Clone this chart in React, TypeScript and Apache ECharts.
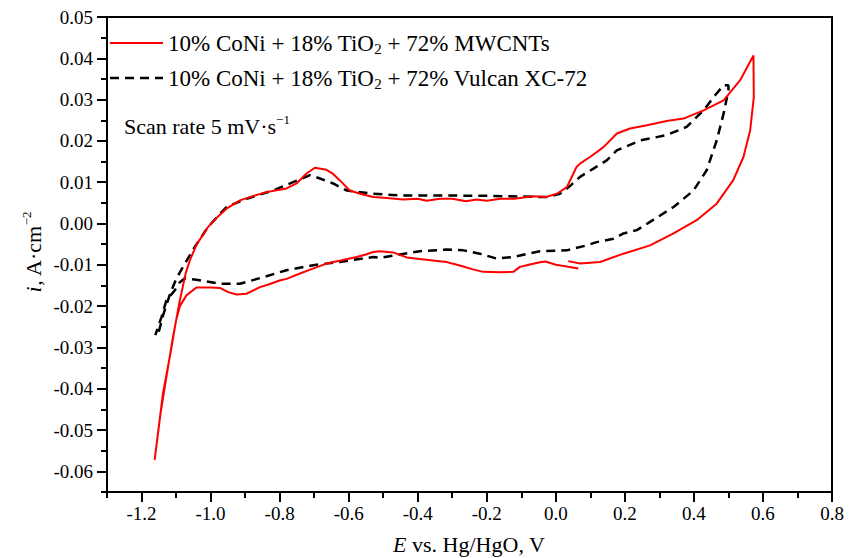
import React, { useEffect, useRef } from "react";
import * as echarts from "echarts";

// MWCNTs support: potential (V) and current density (A/cm2)
const mwcntE = [
  0.065, 0.032, 0.0, -0.03, -0.046, -0.075, -0.104, -0.123, -0.16, -0.21, -0.24, -0.268, -0.3, -0.316, -0.35, -0.394,
  -0.432, -0.471, -0.51, -0.529, -0.55, -0.577, -0.62, -0.664, -0.7, -0.741, -0.78, -0.8, -0.83, -0.857, -0.896,
  -0.925, -0.949, -0.973, -1.0, -1.041, -1.07, -1.089, -1.1, -1.113, -1.138, -1.162,
  -1.145, -1.128, -1.109, -1.089, -1.072, -1.06, -1.04, -1.02, -1.007, -0.98, -0.954, -0.915, -0.875, -0.838, -0.8,
  -0.78, -0.751, -0.722, -0.698, -0.664, -0.645, -0.626, -0.597, -0.567, -0.529, -0.49, -0.442, -0.4, -0.374, -0.336,
  -0.3, -0.26, -0.23, -0.2, -0.16, -0.12, -0.065, -0.03, 0.003, 0.032, 0.051, 0.06, 0.07, 0.099, 0.138, 0.177, 0.215,
  0.264, 0.321, 0.37, 0.428, 0.486, 0.534, 0.5725,
  0.5735, 0.563, 0.5435, 0.514, 0.466, 0.408, 0.341, 0.273, 0.196, 0.128, 0.07, 0.036,
];
const mwcntI = [
  -0.0109, -0.0104, -0.01, -0.0092, -0.0094, -0.0099, -0.0105, -0.0117, -0.0118, -0.0117, -0.0111, -0.0104, -0.0097,
  -0.0093, -0.009, -0.0086, -0.0082, -0.007, -0.0067, -0.0069, -0.0075, -0.0081, -0.0089, -0.0097, -0.0108, -0.0121,
  -0.0134, -0.0138, -0.0147, -0.0154, -0.017, -0.0172, -0.0166, -0.0156, -0.0155, -0.0155, -0.0174, -0.02, -0.0235,
  -0.0299, -0.0412, -0.0572,
  -0.046, -0.0372, -0.0275, -0.0186, -0.012, -0.0089, -0.005, -0.0025, -0.0008, 0.0016, 0.0036, 0.0056, 0.0067,
  0.0076, 0.0082, 0.0085, 0.0097, 0.0121, 0.0135, 0.013, 0.012, 0.0105, 0.008, 0.0072, 0.0064, 0.0062, 0.0058, 0.006,
  0.0055, 0.006, 0.006, 0.0054, 0.0058, 0.0055, 0.006, 0.006, 0.0066, 0.0064, 0.0072, 0.0088, 0.0121, 0.0137, 0.0145,
  0.0161, 0.0185, 0.0218, 0.023, 0.0238, 0.0248, 0.0254, 0.0274, 0.0298, 0.0347, 0.0407,
  0.0306, 0.0226, 0.0161, 0.0105, 0.0048, 0.0008, -0.0024, -0.0053, -0.0073, -0.0093, -0.0097, -0.0091,
];

// Vulcan XC-72 support
const vulcanE = [
  -1.15, -1.136, -1.118, -1.1, -1.08, -1.046, -1.007, -0.954, -0.896, -0.819, -0.761, -0.712, -0.683, -0.645, -0.606,
  -0.529, -0.452, -0.336, -0.2, -0.0265, 0.012, 0.04, 0.07, 0.109, 0.1475, 0.1765, 0.244, 0.321, 0.379, 0.428, 0.457,
  0.486, 0.5,
  0.5, 0.486, 0.466, 0.437, 0.399, 0.341, 0.273, 0.235, 0.196, 0.167, 0.1185, 0.0895, 0.0507, 0.0316, -0.046, -0.123,
  -0.171, -0.22, -0.268, -0.316, -0.394, -0.452, -0.51, -0.529, -0.626, -0.703, -0.78, -0.848, -0.915, -0.973,
  -1.041, -1.075, -1.089, -1.104, -1.128, -1.142, -1.16,
];
const vulcanI = [
  -0.0262, -0.0218, -0.0172, -0.0135, -0.0105, -0.0057, -0.0008, 0.004, 0.006, 0.008, 0.01, 0.0117, 0.0109, 0.0097,
  0.008, 0.0072, 0.0068, 0.0068, 0.0067, 0.0064, 0.0072, 0.009, 0.0113, 0.0133, 0.0153, 0.0177, 0.0201, 0.0214,
  0.0234, 0.0274, 0.0306, 0.0335, 0.0335,
  0.0323, 0.0266, 0.0201, 0.0129, 0.008, 0.004, 0.0004, -0.0016, -0.0024, -0.0037, -0.0045, -0.0053, -0.0061, -0.0065,
  -0.0067, -0.0081, -0.0085, -0.0073, -0.0065, -0.0063, -0.0067, -0.0075, -0.0083, -0.0081, -0.0093, -0.0101, -0.0113,
  -0.013, -0.0146, -0.0146, -0.0136, -0.0133, -0.0142, -0.0162, -0.0186, -0.0226, -0.027,
];

const xMajorTicks = [-1.2, -1.0, -0.8, -0.6, -0.4, -0.2, 0.0, 0.2, 0.4, 0.6, 0.8];
const xMinorTicks = [-1.3, -1.1, -0.9, -0.7, -0.5, -0.3, -0.1, 0.1, 0.3, 0.5, 0.7];
const yMajorTicks = [-0.06, -0.05, -0.04, -0.03, -0.02, -0.01, 0.0, 0.01, 0.02, 0.03, 0.04, 0.05];
const yMinorTicks = [-0.065, -0.055, -0.045, -0.035, -0.025, -0.015, -0.005, 0.005, 0.015, 0.025, 0.035, 0.045];

const FONT = "Liberation Serif";

export default function App() {
  const ref = useRef<HTMLDivElement>(null);
  useEffect(() => {
    if (!ref.current) return;
    const chart = echarts.init(ref.current, null, { renderer: "svg" });
    const pair = (xs: number[], ys: number[]) => xs.map((x, i) => [x, ys[i]]);
    const tickRich = { t: { fontFamily: FONT, fontSize: 19, color: "#000", fill: "#000" } };
    const txt = (extra: object = {}) => ({ fontSize: 22, fontFamily: FONT, fill: "#000", lineHeight: 26, ...extra });
    chart.setOption({
      animation: false,
      backgroundColor: "#fff",
      textStyle: { fontFamily: FONT },
      grid: { left: 107, top: 17, right: 24, bottom: 66, show: true, borderColor: "#000", borderWidth: 2 },
      xAxis: [
        {
          type: "value", min: -1.3, max: 0.8,
          axisLine: { show: true, onZero: false, lineStyle: { color: "#000", width: 2 } },
          axisTick: { show: true, inside: false, length: 10, customValues: xMajorTicks, lineStyle: { color: "#000", width: 2 } },
          axisLabel: {
            customValues: xMajorTicks, formatter: (v: number) => `{t|${v.toFixed(1)}}`, rich: tickRich,
            fontFamily: FONT, fontSize: 19, color: "#000", margin: 12,
          },
          splitLine: { show: false },
        },
        {
          type: "value", min: -1.3, max: 0.8, position: "bottom",
          axisLine: { show: false, onZero: false },
          axisTick: { show: true, length: 6, customValues: xMinorTicks, lineStyle: { color: "#000", width: 2 } },
          axisLabel: { show: false },
          splitLine: { show: false },
        },
      ],
      yAxis: [
        {
          type: "value", min: -0.065, max: 0.05,
          axisLine: { show: true, onZero: false, lineStyle: { color: "#000", width: 2 } },
          axisTick: { show: true, length: 10, customValues: yMajorTicks, lineStyle: { color: "#000", width: 2 } },
          axisLabel: {
            customValues: yMajorTicks, formatter: (v: number) => `{t|${v.toFixed(2)}}`, rich: tickRich,
            fontFamily: FONT, fontSize: 19, color: "#000", margin: 14,
          },
          splitLine: { show: false },
        },
        {
          type: "value", min: -0.065, max: 0.05, position: "left",
          axisLine: { show: false, onZero: false },
          axisTick: { show: true, length: 6, customValues: yMinorTicks, lineStyle: { color: "#000", width: 2 } },
          axisLabel: { show: false },
          splitLine: { show: false },
        },
      ],
      series: [
        {
          name: "MWCNTs", type: "line", data: pair(mwcntE, mwcntI), showSymbol: false, symbol: "none",
          lineStyle: { color: "#ff0000", width: 2 }, z: 3,
        },
        {
          name: "Vulcan", type: "line", data: pair(vulcanE, vulcanI), showSymbol: false, symbol: "none",
          lineStyle: { color: "#000", width: 2.5, type: [9, 6] }, z: 2,
        },
      ],
      graphic: [
        { type: "line", shape: { x1: 110, y1: 43, x2: 163, y2: 43 }, style: { stroke: "#ff0000", lineWidth: 2 } },
        {
          type: "text", x: 168, y: 43,
          style: {
            text: "{a|10% CoNi + 18% TiO}{sub|2}{a| + 72% MWCNTs}",
            verticalAlign: "middle", fontFamily: FONT,
            rich: { a: txt({ fontSize: 23 }), sub: txt({ fontSize: 15, lineHeight: 8, verticalAlign: "bottom" }) },
          },
        },
        { type: "line", shape: { x1: 110, y1: 78, x2: 163, y2: 78 }, style: { stroke: "#000", lineWidth: 2.5, lineDash: [9, 6] } },
        {
          type: "text", x: 168, y: 78,
          style: {
            text: "{a|10% CoNi + 18% TiO}{sub|2}{a| + 72% Vulcan XC-72}",
            verticalAlign: "middle", fontFamily: FONT,
            rich: { a: txt({ fontSize: 23 }), sub: txt({ fontSize: 15, lineHeight: 8, verticalAlign: "bottom" }) },
          },
        },
        {
          type: "text", x: 124, y: 126,
          style: {
            text: "{a|Scan rate 5 mV·s}{sup|−1}",
            verticalAlign: "middle", fontFamily: FONT,
            rich: { a: txt(), sup: txt({ fontSize: 13, lineHeight: 10, verticalAlign: "top" }) },
          },
        },
        {
          type: "text", x: 469, y: 544,
          style: {
            text: "{e|E}{a| vs. Hg/HgO, V}",
            align: "center", verticalAlign: "middle", fontFamily: FONT,
            rich: { e: txt({ fontStyle: "italic" }), a: txt() },
          },
        },
        {
          type: "text", x: 33, y: 252, rotation: Math.PI / 2,
          style: {
            text: "{i|i}{a|, A·cm}{sup|−2}",
            align: "center", verticalAlign: "middle", fontFamily: FONT,
            rich: {
              i: txt({ fontStyle: "italic" }),
              a: txt(),
              sup: txt({ fontSize: 13, lineHeight: 10, verticalAlign: "top" }),
            },
          },
        },
      ],
    });
    return () => chart.dispose();
  }, []);
  return <div ref={ref} style={{ position: "fixed", left: 0, top: 0, width: 856, height: 558 }} />;
}
